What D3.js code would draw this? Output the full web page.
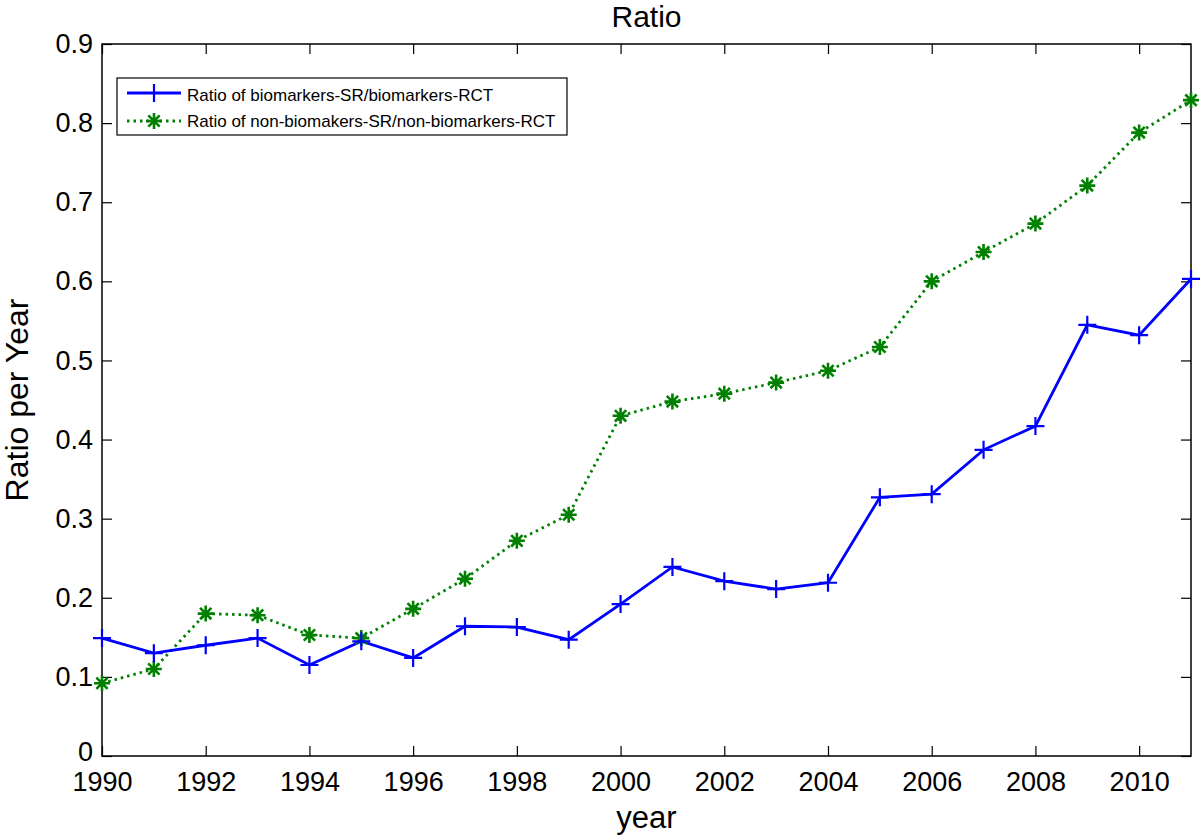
<!DOCTYPE html>
<html><head><meta charset="utf-8">
<script src="https://cdn.jsdelivr.net/npm/d3@7"></script>
<style>body{margin:0;background:#fff}svg{display:block;font-family:"Liberation Sans",Arial,sans-serif}</style>
</head><body><svg id="c" width="1200" height="836"></svg>
<script>
const years = d3.range(1990, 2012);
const biomarkers = [0.149,0.130,0.140,0.149,0.115,0.145,0.124,0.164,0.163,0.147,0.192,0.239,0.221,0.211,0.219,0.327,0.331,0.387,0.417,0.545,0.532,0.603];
const nonBiomarkers = [0.092,0.110,0.180,0.178,0.153,0.149,0.186,0.224,0.272,0.305,0.430,0.448,0.458,0.472,0.487,0.517,0.600,0.637,0.673,0.721,0.788,0.829];
const xTicks = [1990,1992,1994,1996,1998,2000,2002,2004,2006,2008,2010];
const yTicks = [0,0.1,0.2,0.3,0.4,0.5,0.6,0.7,0.8,0.9];
const labels = ["Ratio of biomarkers-SR/biomarkers-RCT","Ratio of non-biomakers-SR/non-biomarkers-RCT"];

const svg = d3.select("#c");
const L=102, R=1191, T=44, B=756;
const x = d3.scaleLinear().domain([1990,2011]).range([L,R]);
const y = d3.scaleLinear().domain([0,0.9]).range([B,T]);
const tl = 10;
const FF = "Liberation Sans, Arial, sans-serif";

svg.append("rect").attr("x",L).attr("y",T).attr("width",R-L).attr("height",B-T)
  .attr("fill","none").attr("stroke","#000").attr("stroke-width",1.5);

const fmt = d => d===0 ? "0" : d3.format(".1f")(d);
const gx = svg.append("g").attr("transform",`translate(0,${B})`)
  .call(d3.axisBottom(x).tickValues(xTicks).tickFormat(d3.format("d")).tickSizeInner(-tl).tickSizeOuter(0).tickPadding(16));
gx.select(".domain").remove();
gx.selectAll("text").attr("font-size",27).attr("fill","#000").attr("font-family",FF);
gx.selectAll("line").attr("stroke-width",1.2);
const gxt = svg.append("g").attr("transform",`translate(0,${T})`)
  .call(d3.axisTop(x).tickValues(xTicks).tickFormat("").tickSizeInner(-tl).tickSizeOuter(0));
gxt.select(".domain").remove(); gxt.selectAll("line").attr("stroke-width",1.2);
const gy = svg.append("g").attr("transform",`translate(${L},0)`)
  .call(d3.axisLeft(y).tickValues(yTicks).tickFormat(fmt).tickSizeInner(-tl).tickSizeOuter(0).tickPadding(9));
gy.select(".domain").remove();
gy.selectAll("text").attr("font-size",27).attr("fill","#000").attr("font-family",FF);
gy.selectAll(".tick").filter(d=>d===0).select("text").attr("y",-4);
gy.selectAll("line").attr("stroke-width",1.2);
const gyr = svg.append("g").attr("transform",`translate(${R},0)`)
  .call(d3.axisRight(y).tickValues(yTicks).tickFormat("").tickSizeInner(-tl).tickSizeOuter(0));
gyr.select(".domain").remove(); gyr.selectAll("line").attr("stroke-width",1.2);

svg.append("text").attr("x",(L+R)/2).attr("y",27).attr("text-anchor","middle").attr("font-size",30).text("Ratio");
svg.append("text").attr("x",(L+R)/2).attr("y",828).attr("text-anchor","middle").attr("font-size",31).text("year");
svg.append("text").attr("transform",`translate(28,${(T+B)/2}) rotate(-90)`).attr("text-anchor","middle").attr("font-size",32).text("Ratio per Year");

const line = d3.line().x((d,i)=>x(years[i])).y(d=>y(d));
const blue="#0000ff", green="#008000";

function plus(g, cx, cy, s){
  g.append("path").attr("d",`M${cx-s},${cy}H${cx+s}M${cx},${cy-s}V${cy+s}`).attr("stroke",blue).attr("stroke-width",2.2).attr("fill","none");
}
function star(g, cx, cy, s){
  let d="";
  for(let k=0;k<4;k++){const a=k*Math.PI/4; d+=`M${cx-s*Math.cos(a)},${cy-s*Math.sin(a)}L${cx+s*Math.cos(a)},${cy+s*Math.sin(a)}`;}
  g.append("path").attr("d",d).attr("stroke",green).attr("stroke-width",2.6).attr("fill","none");
}

svg.append("path").datum(nonBiomarkers).attr("d",line).attr("fill","none").attr("stroke",green).attr("stroke-width",2.8).attr("stroke-dasharray","2.5,4");
svg.append("path").datum(biomarkers).attr("d",line).attr("fill","none").attr("stroke",blue).attr("stroke-width",2.8);
const gm = svg.append("g");
nonBiomarkers.forEach((v,i)=>star(gm,x(years[i]),y(v),8));
biomarkers.forEach((v,i)=>plus(gm,x(years[i]),y(v),9));

const lg = svg.append("g");
lg.append("rect").attr("x",117).attr("y",78).attr("width",450).attr("height",57).attr("fill","#fff").attr("stroke","#000").attr("stroke-width",1.2);
lg.append("path").attr("d","M127,93H181").attr("stroke",blue).attr("stroke-width",2.8);
plus(lg,154,93,9);
lg.append("path").attr("d","M127,121H181").attr("stroke",green).attr("stroke-width",2.8).attr("stroke-dasharray","2.5,4");
star(lg,154,121,8);
lg.append("text").attr("x",187).attr("y",101).attr("font-size",17).text(labels[0]);
lg.append("text").attr("x",187).attr("y",127).attr("font-size",17).text(labels[1]);
</script></body></html>
